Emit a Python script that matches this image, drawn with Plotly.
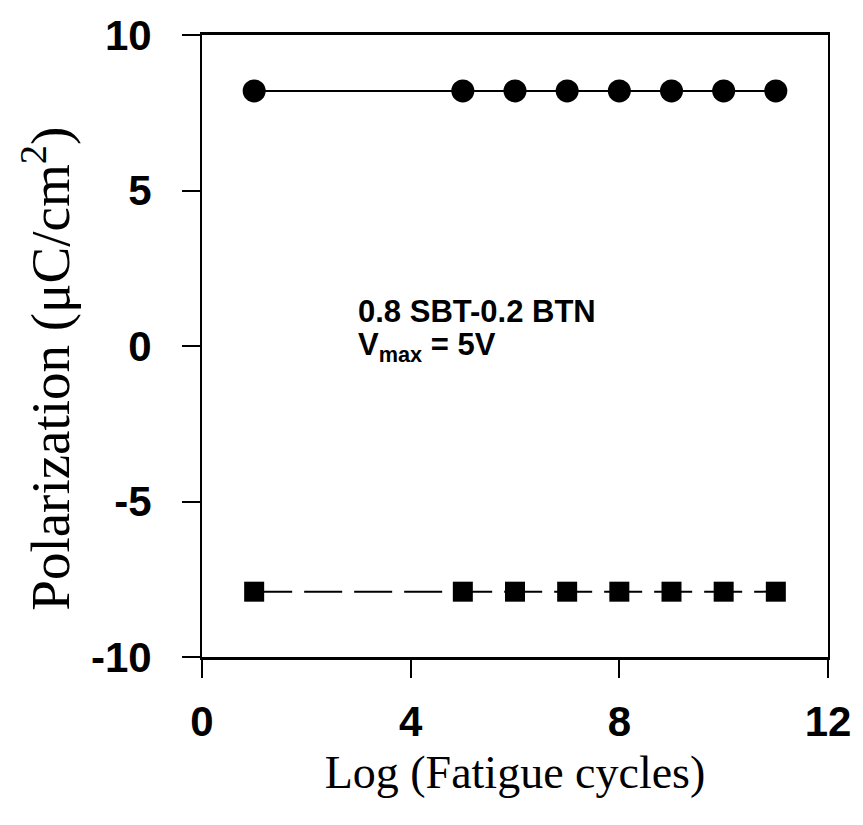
import plotly.graph_objects as go

# Data
log_cycles = [1, 5, 6, 7, 8, 9, 10, 11]
pos_polarization = [8.2, 8.2, 8.2, 8.2, 8.2, 8.2, 8.2, 8.2]
neg_polarization = [-7.9, -7.9, -7.9, -7.9, -7.9, -7.9, -7.9, -7.9]
x_ticks = [0, 4, 8, 12]
y_ticks = [-10, -5, 0, 5, 10]
y_tick_text = ["-10", "-5", "0", "5", "10"]

fig = go.Figure()
fig.add_trace(go.Scatter(
    x=log_cycles, y=pos_polarization, mode="lines+markers",
    line=dict(color="black", width=2),
    marker=dict(symbol="circle", size=23, color="black"),
    showlegend=False))
fig.add_trace(go.Scatter(
    x=log_cycles, y=neg_polarization, mode="lines+markers",
    line=dict(color="black", width=2, dash="38px,12px"),
    marker=dict(symbol="square", size=20, color="black"),
    showlegend=False))

annot_font = dict(family="Liberation Sans", size=31, weight="bold", color="black")
fig.add_annotation(
    x=2.95, y=1.1, xref="x", yref="y", xanchor="left", yanchor="middle",
    text="0.8 SBT-0.2 BTN", showarrow=False, align="left", font=annot_font)
fig.add_annotation(
    x=2.95, y=-0.02, xref="x", yref="y", xanchor="left", yanchor="middle",
    text="V<sub>max</sub> = 5V", showarrow=False, align="left", font=annot_font)

# y-axis title placed as rotated text
fig.add_annotation(
    x=-0.2476, y=0.4635, xref="paper", yref="paper", xanchor="center", yanchor="middle",
    text="Polarization (μC/cm<sup>2</sup>)", textangle=-90, showarrow=False,
    font=dict(family="Liberation Serif", size=55, color="black"))

tickfont = dict(family="Liberation Sans", size=42, weight="bold", color="black")

fig.update_xaxes(
    range=[0, 12], tickvals=x_ticks, ticks="outside", ticklen=18, tickwidth=2,
    tickcolor="black", showline=True, linecolor="black", linewidth=3, mirror=True,
    showgrid=False, zeroline=False, tickfont=tickfont, ticklabelstandoff=8,
    title=dict(text="Log (Fatigue cycles)",
               font=dict(family="Liberation Serif", size=46, color="black"), standoff=12))
fig.update_yaxes(
    range=[-10, 10], tickvals=y_ticks, ticktext=y_tick_text, ticks="outside",
    ticklen=18, tickwidth=2,
    tickcolor="black", showline=True, linecolor="black", linewidth=2, mirror=True,
    showgrid=False, zeroline=False, tickfont=tickfont, ticklabelstandoff=22)

fig.update_layout(
    width=863, height=825,
    margin=dict(l=202, r=35, t=27, b=168),
    plot_bgcolor="white", paper_bgcolor="white")

fig.write_html("out.html")
